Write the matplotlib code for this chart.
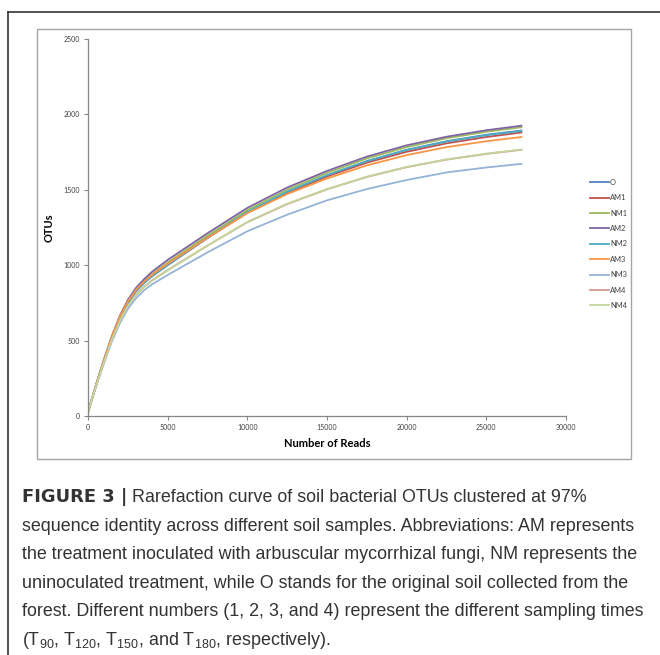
import matplotlib
matplotlib.use("Agg")
import matplotlib.pyplot as plt
from matplotlib.patches import Rectangle
from matplotlib.lines import Line2D

# number of reads (sampling depth)
reads = [0, 500, 1000, 1500, 2000, 2500, 3000, 3500, 4000, 5000, 7500, 10000,
         12500, 15000, 17500, 20000, 22500, 25000, 27200]

O   = [25, 200, 365, 520, 650, 750, 825, 880, 925, 1000, 1180, 1350, 1485, 1595, 1690, 1765, 1822, 1865, 1893]
AM1 = [25, 202, 368, 523, 655, 755, 830, 885, 930, 1005, 1182, 1348, 1480, 1588, 1680, 1752, 1808, 1850, 1880]
NM1 = [25, 203, 370, 526, 658, 760, 836, 892, 940, 1018, 1196, 1365, 1500, 1612, 1708, 1783, 1842, 1885, 1915]
AM2 = [25, 205, 374, 530, 665, 770, 848, 905, 955, 1035, 1212, 1380, 1515, 1625, 1720, 1795, 1852, 1895, 1925]
NM2 = [25, 200, 366, 521, 652, 752, 828, 882, 928, 1003, 1183, 1352, 1487, 1597, 1690, 1764, 1820, 1862, 1890]
AM3 = [25, 204, 372, 528, 660, 760, 835, 890, 935, 1010, 1182, 1345, 1472, 1575, 1662, 1730, 1783, 1822, 1850]
NM3 = [25, 195, 350, 495, 615, 710, 780, 832, 872, 935, 1085, 1225, 1335, 1430, 1505, 1565, 1615, 1648, 1672]
AM4 = [25, 198, 358, 508, 632, 730, 803, 856, 898, 968, 1130, 1285, 1405, 1503, 1585, 1650, 1700, 1738, 1765]
NM4 = [25, 197, 356, 505, 630, 728, 800, 853, 895, 965, 1130, 1287, 1408, 1505, 1587, 1652, 1702, 1740, 1767]

labels = ["O", "AM1", "NM1", "AM2", "NM2", "AM3", "NM3", "AM4", "NM4"]
series = [O, AM1, NM1, AM2, NM2, AM3, NM3, AM4, NM4]
colors = ["#4F81BD", "#C0504D", "#9BBB59", "#8064A2", "#4BACC6",
          "#F79646", "#95B3D7", "#D99694", "#C3D69B"]

xticks = [0, 5000, 10000, 15000, 20000, 25000, 30000]
yticks = [0, 500, 1000, 1500, 2000, 2500]

fig = plt.figure(figsize=(6.6, 6.55), dpi=100)

# outer page frame (top and left only)
fig.add_artist(Line2D([8 / 660, 1.0], [0.9817, 0.9817], color="#333333", lw=1.2))
fig.add_artist(Line2D([8 / 660, 8 / 660], [0.0, 0.9817], color="#333333", lw=1.2))

# chart border
fig.add_artist(Rectangle((37 / 660, 0.2992), (631 - 37) / 660, 0.9557 - 0.2992,
                         fill=False, edgecolor="#A6A6A6", lw=1.0))

ax = fig.add_axes([88 / 660, 239 / 655, 478 / 660, 377 / 655])
for lab, ys, c in zip(labels, series, colors):
    ax.plot(reads, ys, color=c, lw=1.3, label=lab)

ax.set_xlim(0, 30000)
ax.set_ylim(0, 2500)
ax.set_xticks(xticks)
ax.set_yticks(yticks)
for s in ["top", "right"]:
    ax.spines[s].set_visible(False)
for s in ["left", "bottom"]:
    ax.spines[s].set_color("#868686")
    ax.spines[s].set_linewidth(0.9)
ax.tick_params(direction="out", length=3, width=0.8, color="#868686",
               labelsize=5, labelcolor="#404040", pad=3)
for t in ax.get_xticklabels() + ax.get_yticklabels():
    t.set_family("Lato")

ax.set_xlabel("Number of Reads", fontsize=8, fontweight="bold", family="Lato",
              labelpad=5)
ax.set_ylabel("OTUs", fontsize=8, fontweight="bold", family="Lato", labelpad=6)

leg = fig.legend(loc="center left", bbox_to_anchor=(586 / 660, 0.6275),
                 frameon=False, handlelength=2.6, handletextpad=0.1,
                 labelspacing=1.12, borderpad=0, prop={"family": "Lato", "size": 5.4})
for t in leg.get_texts():
    t.set_color("#404040")

# caption
fs = 12.85
cap_kw = dict(fontsize=fs, color="#333333", family="Liberation Sans", va="baseline")
x0 = 22 / 660
t1 = fig.text(x0, 1 - 502 / 655, "FIGURE 3 |", fontweight="bold",
              fontsize=fs, color="#333333", family="DejaVu Sans", va="baseline")
ax.annotate(" Rarefaction curve of soil bacterial OTUs clustered at 97%",
            xy=(1, 0), xycoords=t1, xytext=(0, 0), textcoords="offset points",
            va="bottom", ha="left", fontsize=fs, color="#333333",
            family="Liberation Sans", annotation_clip=False)

lines = [
    "sequence identity across different soil samples. Abbreviations: AM represents",
    "the treatment inoculated with arbuscular mycorrhizal fungi, NM represents the",
    "uninoculated treatment, while O stands for the original soil collected from the",
    "forest. Different numbers (1, 2, 3, and 4) represent the different sampling times",
    r"(T$\mathregular{_{90}}$, T$\mathregular{_{120}}$, T$\mathregular{_{150}}$, and "
    r"T$\mathregular{_{180}}$, respectively).",
]
for i, ln in enumerate(lines):
    fig.text(x0, 1 - (502 + 28.6 * (i + 1)) / 655, ln, **cap_kw)

fig.savefig("out.png", dpi=100)
